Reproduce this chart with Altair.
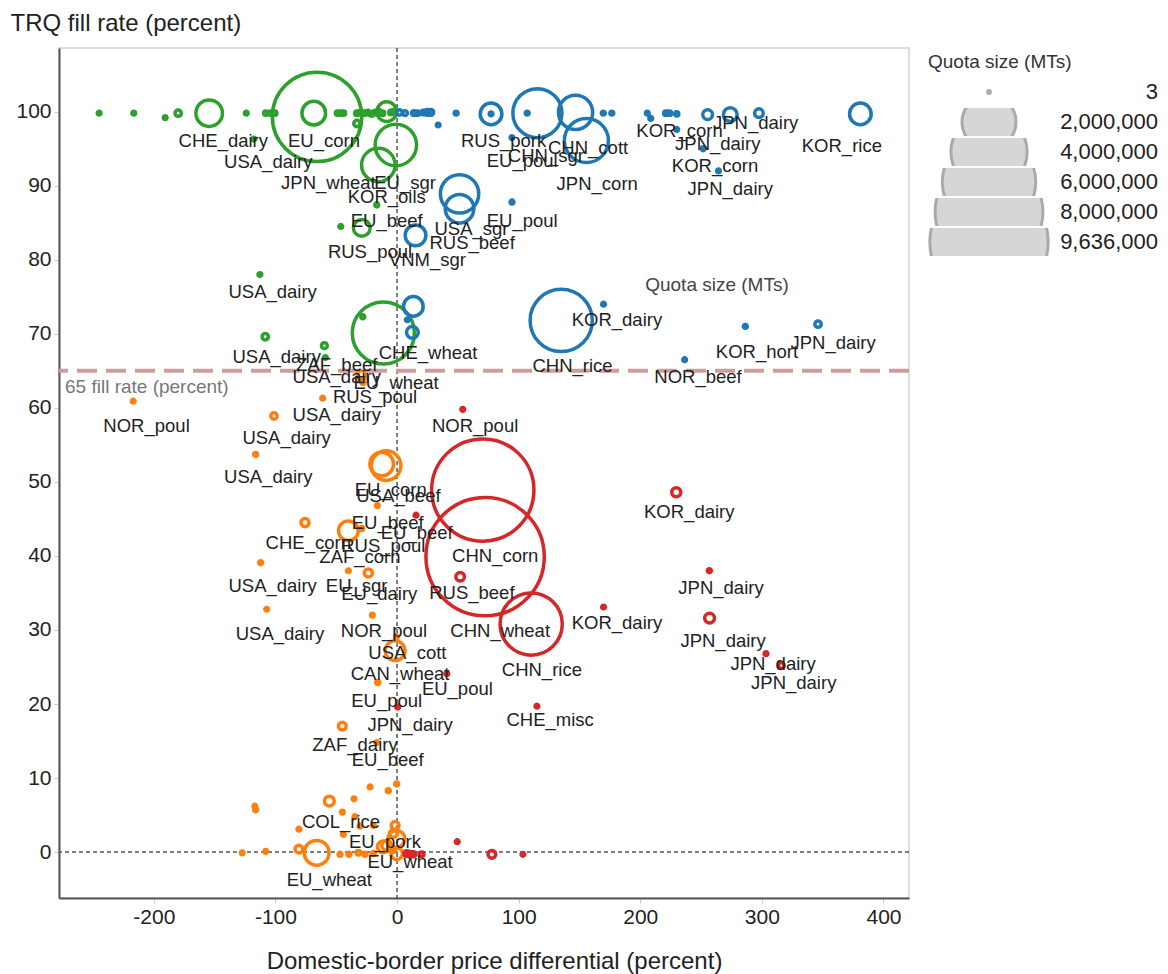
import altair as alt
import pandas as pd

# ---- points: price differential (%), TRQ fill rate (%), quota size (MTs) ----
price_diff = [
    # x<0, fill>=65
    -245, -216.5, -190.7, -180, -154.5, -124, -108, -104, -100.5, -117.7,
    -65.8, -68.5, -49, -46, -44, -33, -30, -27, -24, -21, -18, -15, -12, -5, -3,
    -33, -8.5, -1, -15.4, -16.7, -29, -46.3, -112.8, -108.4, -59.8, -59.0, -28.2, -11.3,
    # x>=0, fill>=65
    2, 6.6, 13.8, 16.6, 21.6, 24.9, 27.7, 33.8, 48.6, 77.3, 77.3, 94.5, 107, 115.4,
    146.8, 155.7, 169.6, 176.6, 205.8, 208.6, 221.1, 223.9, 230, 230, 255.4, 251.7,
    274, 264.3, 297.6, 381, 51.4, 51.4, 94.5, 15.2, 13.4, 8.5, 12.6, 135, 169.8,
    286.4, 346.2, 236.5,
    # x<0, fill<65
    -29, -28, -61.2, -101.2, -217, -116.3, -12.6, -9, -16.2, -75.7, -40, -29,
    -112.2, -40, -23.6, -107.2, -20.3, -1.6, -0.5, -15.9, -45, -16.7, -0.3, -22.2,
    -7.2, -55.7, -35.4, -116.9, -116.3, -45, -34.6, -30.5, -80.7, -44.2, -19.5,
    -1.6, -3, -0.5, -8.5, -0.3, -127.3, -108, -80.7, -66.1, -46.9, -39.5, -31.8,
    -26.3, -19.5, -11.3, -4,
    # x>=0, fill<65
    54, 70.5, 229.6, 72.4, 51.9, 15.6, 256.8, 257, 169.8, 303.4, 316, 40.9, 115,
    110.3, 0.5, 49.5, 78, 103.5, 8, 10.7, 13.5, 20.3,
]
fill_rate = [
    99.8, 99.8, 99.2, 99.8, 99.8, 99.8, 99.8, 99.8, 99.8, 96.3,
    99.3, 99.8, 99.8, 99.8, 99.8, 99.8, 99.9, 99.8, 99.9, 99.7, 99.9, 100, 99.8, 99.9, 100,
    98.4, 100, 95.5, 92.8, 87.4, 84.3, 84.5, 78, 69.6, 68.4, 66.8, 72.3, 70.1,
    99.9, 99.8, 99.8, 99.8, 99.9, 99.9, 99.9, 98.2, 99.8, 99.7, 99.7, 96.5, 99.8, 99.8,
    99.9, 96.1, 99.8, 99.8, 99.8, 99.1, 99.8, 99.8, 99.7, 97.6, 99.6, 95,
    99.6, 92, 99.8, 99.7, 88.9, 86.9, 87.8, 83.3, 73.7, 71.9, 70.2, 71.8, 74,
    71, 71.3, 66.5,
    64.4, 63.4, 61.3, 58.9, 60.9, 53.7, 52.4, 52.2, 46.8, 44.5, 43.4, 43.7,
    39.1, 38, 37.7, 32.8, 32, 27.2, 29.1, 22.9, 17, 14.8, 9.2, 8.8,
    8.3, 6.9, 7.2, 6.2, 5.7, 5.4, 4.8, 3.5, 3.1, 2.4, 3.6,
    3.6, 2.5, 1.8, 0.9, -0.2, -0.1, 0.1, 0.4, -0.1, -0.3, -0.3, -0.1,
    -0.3, -0.2, 0.7, 0.3,
    59.8, 48.9, 48.6, 39.9, 37.2, 45.5, 38, 31.6, 33.1, 26.8, 25.2, 24.1, 19.7,
    30.8, 19.6, 1.4, -0.3, -0.3, -0.2, -0.3, -0.3, -0.3,
]
quota = [
    4000, 4000, 4000, 22000, 480000, 4000, 6000, 6000, 6000, 4000,
    5500000, 380000, 6000, 6000, 6000, 8000, 8000, 8000, 8000, 8000, 8000, 8000, 8000, 8000, 8000,
    22000, 260000, 1175000, 770000, 5000, 187000, 4000, 4000, 22000, 18000, 4000, 5000, 2650000,
    15000, 10000, 10000, 8000, 8000, 18000, 18000, 4000, 5000, 317000, 4000, 4000, 5000, 1650000,
    800000, 1330000, 5000, 5000, 4000, 4000, 8000, 8000, 6000, 4000, 60000, 5000,
    124000, 4000, 45000, 317000, 1010000, 556000, 5000, 290000, 261000, 4000, 90000, 2660000, 4000,
    5000, 22000, 4000,
    50000, 5000, 4000, 22000, 4000, 5000, 380000, 596000, 4000, 40000, 261000, 5000,
    5000, 4000, 40000, 4000, 4000, 261000, 4000, 6000, 36000, 4000, 5000, 4000,
    5000, 60000, 4000, 4000, 4000, 4000, 4000, 4000, 4000, 4000, 4000,
    36000, 36000, 187000, 60000, 90000, 4000, 4000, 36000, 418000, 5000, 5000, 8000,
    5000, 5000, 90000, 20000,
    4000, 7200000, 50000, 9636000, 45000, 4000, 5000, 60000, 4000, 4000, 18000, 4000, 4000,
    2660000, 4000, 4000, 36000, 4000, 18000, 18000, 12000, 8000,
]

# ---- point labels ----
label_text = [
    "CHE_dairy", "EU_corn", "USA_dairy", "JPN_wheat", "EU_sgr", "KOR_oils", "EU_beef",
    "RUS_poul", "VNM_sgr", "RUS_beef", "USA_sgr", "EU_poul", "RUS_pork", "EU_poul",
    "CHN_sgr", "CHN_cott", "JPN_corn", "KOR_corn", "JPN_dairy", "JPN_dairy", "KOR_corn",
    "JPN_dairy", "KOR_rice", "USA_dairy", "USA_dairy", "ZAF_beef", "USA_dairy",
    "CHE_wheat", "EU_wheat", "RUS_poul", "USA_dairy", "NOR_poul", "USA_dairy",
    "USA_dairy", "EU_corn", "USA_beef", "KOR_dairy", "CHN_rice", "NOR_beef", "KOR_hort",
    "JPN_dairy", "NOR_poul", "KOR_dairy", "EU_beef", "EU_beef", "CHE_corn", "RUS_poul",
    "ZAF_corn", "USA_dairy", "EU_sgr", "EU_dairy", "USA_dairy", "NOR_poul", "USA_cott",
    "CAN_wheat", "EU_poul", "EU_poul", "JPN_dairy", "CHN_corn", "RUS_beef", "CHN_wheat",
    "CHN_rice", "KOR_dairy", "JPN_dairy", "JPN_dairy", "JPN_dairy", "JPN_dairy",
    "CHE_misc", "ZAF_dairy", "EU_beef", "COL_rice", "EU_pork", "EU_wheat", "EU_wheat",
]
label_x = [
    -142.9, -60.1, -105.9, -56.5, 6.6, -8.5, -8.5,
    -22.2, 24.9, 61.7, 61.2, 102.9, 87.6, 102.9,
    122.4, 157.1, 164.6, 232.3, 294.9, 263.7, 261.5,
    274.0, 365.8, -102.3, -99.0, -49.6, -49.6,
    25.5, -0.8, -18.1, -49.6, -206.0, -90.8,
    -105.9, -5.2, 1.1, 180.8, 144.3, 247.5, 296.0,
    358.6, 64.2, 240.3, -7.7, 16.2, -73.0, -11.3,
    -30.5, -102.3, -33.2, -14.6, -96.3, -10.7, 8.5,
    2.5, -8.5, 49.6, 10.7, 80.7, 61.5, 84.8,
    119.1, 180.8, 266.4, 268.1, 309.2, 326.2,
    125.9, -34.6, -7.7, -46.1, -9.9, 10.7, -55.7,
]
label_y = [
    96.0, 96.0, 93.2, 90.3, 90.4, 88.5, 85.3,
    81.1, 80.0, 82.2, 84.1, 85.3, 96.0, 93.3,
    94.0, 95.1, 90.2, 97.4, 98.5, 95.7, 92.6,
    89.6, 95.3, 75.6, 66.9, 65.8, 64.2,
    67.4, 63.4, 61.4, 59.1, 57.6, 55.9,
    50.7, 48.9, 48.1, 71.8, 65.6, 64.2, 67.6,
    68.7, 57.6, 45.9, 44.5, 43.1, 41.8, 41.4,
    39.9, 35.9, 35.9, 34.9, 29.5, 29.9, 26.9,
    24.0, 20.4, 22.0, 17.2, 40.0, 35.0, 29.8,
    24.6, 31.0, 35.7, 28.5, 25.4, 22.8,
    17.9, 14.4, 12.4, 4.1, 1.3, -1.4, -3.8,
]

legend_values = [3, 2000000, 4000000, 6000000, 8000000, 9636000]
x_ticks = [-200, -100, 0, 100, 200, 300, 400]
y_ticks = list(range(0, 101, 10))
x_domain = [-278, 421]
y_domain = [-6.2, 108.6]
threshold = 65
size_note_pos = [263.1, 76.6]

FONT = "Liberation Sans"

pts = pd.DataFrame({"x": price_diff, "y": fill_rate, "q": quota})
pts["quad"] = [
    ("g" if yy >= threshold else "o") if xx < 0 else ("b" if yy >= threshold else "r")
    for xx, yy in zip(pts["x"], pts["y"])
]
labels = pd.DataFrame({"t": label_text, "x": label_x, "y": label_y})
one = pd.DataFrame({"k": [0]})

xs = alt.Scale(domain=x_domain, nice=False, zero=False)
ys = alt.Scale(domain=y_domain, nice=False, zero=False)

x_axis = alt.Axis(
    values=x_ticks, title="Domestic-border price differential (percent)",
    titleX=435, titleY=70, titleBaseline="alphabetic", titleAlign="center",
    labelExpr="datum.value + ''",
)
y_axis = alt.Axis(
    values=y_ticks, title="TRQ fill rate (percent)",
    titleAngle=0, titleAlign="left", titleBaseline="alphabetic", titleX=-49, titleY=-18,
    labelExpr="datum.value + ''",
)

quads = ["g", "b", "o", "r"]
points = alt.Chart(pts).mark_point(filled=True, strokeWidth=3.5, opacity=1, shape="circle").encode(
    x=alt.X("x:Q", scale=xs, axis=x_axis),
    y=alt.Y("y:Q", scale=ys, axis=y_axis),
    stroke=alt.Stroke(
        "quad:N",
        scale=alt.Scale(domain=quads, range=["#2ca02c", "#1f77b4", "#ff7f0e", "#d62728"]),
        legend=None,
    ),
    fill=alt.Fill(
        "quad:N",
        scale=alt.Scale(domain=quads, range=["transparent"] * 4),
        legend=None,
    ),
    size=alt.Size(
        "q:Q",
        scale=alt.Scale(domain=[0, 9636000], range=[8, 14000], zero=True),
        legend=alt.Legend(
            title="Quota size (MTs)", values=legend_values,
            labelExpr="format(datum.value, ',')",
            symbolFillColor="#d6d6d6", symbolStrokeColor="#aaaaaa",
            symbolStrokeWidth=3, symbolOpacity=1, symbolType="circle",
            clipHeight=28, rowPadding=2, labelFontSize=22, labelAlign="right",
            labelOffset=108, symbolOffset=0, padding=5,
            titleFontSize=19, titleFontWeight="normal",
            titleColor="#333", labelColor="#222", offset=14, titlePadding=6,
        ),
    ),
)

zero_x = alt.Chart(one).mark_rule(color="#555", strokeWidth=1.5, strokeDash=[4, 3]).encode(
    x=alt.datum(0, scale=xs)
)
zero_y = alt.Chart(one).mark_rule(color="#555", strokeWidth=1.5, strokeDash=[4, 3]).encode(
    y=alt.datum(0, scale=ys)
)
thr = alt.Chart(one).mark_rule(color="#cf9c9c", strokeWidth=4, strokeDash=[20, 9]).encode(
    y=alt.datum(threshold, scale=ys)
)
thr_text = alt.Chart(one).mark_text(
    text=f"{threshold} fill rate (percent)", align="left", baseline="middle",
    dx=6, dy=16, fontSize=19, color="#777", font=FONT,
).encode(x=alt.datum(x_domain[0], scale=xs), y=alt.datum(threshold, scale=ys))

floating = alt.Chart(one).mark_text(
    text="Quota size (MTs)", align="center", baseline="middle",
    fontSize=19, color="#444", font=FONT,
).encode(x=alt.datum(size_note_pos[0], scale=xs), y=alt.datum(size_note_pos[1], scale=ys))

texts = alt.Chart(labels).mark_text(
    align="center", baseline="middle", fontSize=18.5, color="#222", font=FONT,
).encode(x=alt.X("x:Q", scale=xs), y=alt.Y("y:Q", scale=ys), text="t:N")

chart = alt.layer(zero_x, zero_y, thr, points, texts, thr_text, floating).properties(
    width=850, height=850,
    padding={"left": 51, "top": 40, "right": 251, "bottom": 76},
    autosize=alt.AutoSizeParams(type="none"),
).configure_view(
    stroke="#dddddd", strokeWidth=2,
).configure_axis(
    labelFont=FONT, titleFont=FONT, labelFontSize=21, titleFontSize=24,
    titleFontWeight="normal", labelColor="#222", titleColor="#222",
    gridColor="#ececec", gridWidth=1.5, domainColor="#555", domainWidth=2,
    tickColor="#cccccc", tickSize=5, labelPadding=3,
).configure_legend(
    labelFont=FONT, titleFont=FONT,
).configure_text(font=FONT)

chart.save("out.html", embed_options={"renderer": "svg", "actions": False})
